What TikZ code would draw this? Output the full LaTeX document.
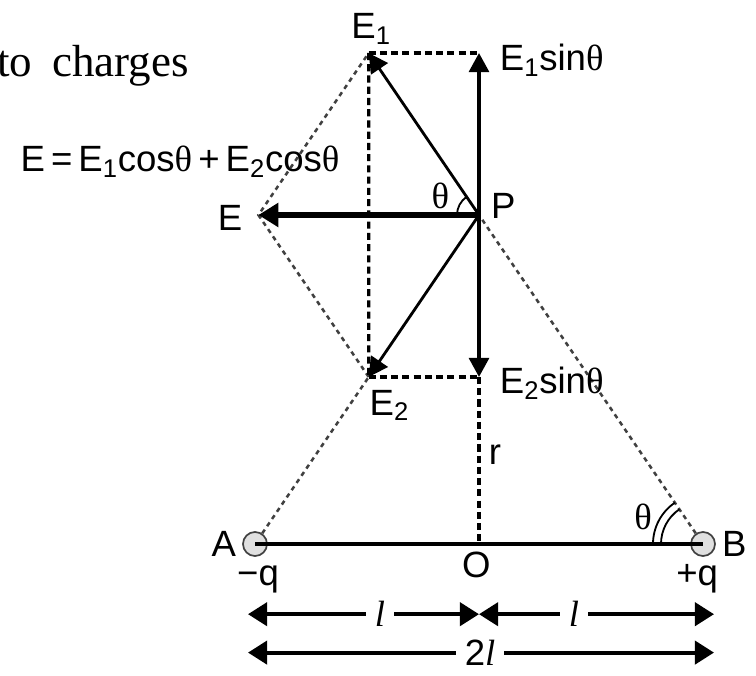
\documentclass[tikz,border=0pt]{standalone}
\usepackage{fontspec}
\setmainfont{Liberation Sans}
\newfontfamily\serifface{Liberation Serif}
\usetikzlibrary{arrows.meta,positioning,calc}
\newcommand{\thet}{{\serifface θ}}
\newcommand{\len}{{\serifface\itshape l}}

\begin{document}
\begin{tikzpicture}[
    font=\fontsize{26}{30}\selectfont,
    vec/.style={-{Triangle[length=0.48cm, width=0.5cm]}, line width=2.4pt},
    resultant/.style={-{Triangle[length=0.5cm, width=0.58cm]}, line width=4pt},
    guide/.style={dash pattern=on 3.2pt off 3pt, line width=1.8pt, black!75},
    proj/.style={dash pattern=on 5pt off 3pt, line width=2.2pt},
    charge/.style={circle, draw=black!75, fill=black!12, line width=1.2pt, minimum size=0.6cm, inner sep=0pt},
    dimline/.style={{Triangle[length=0.48cm, width=0.58cm]}-{Triangle[length=0.48cm, width=0.58cm]}, line width=2.8pt},
    dimlabel/.style={fill=white, inner xsep=6pt, inner ysep=0pt}
]
\useasboundingbox (0,0) rectangle (18.9,16.875);

% charges and field point
\coordinate (A) at (6.375,3.275);
\coordinate (B) at (17.575,3.275);
\coordinate (O) at (11.975,3.275);
\coordinate (P) at (11.975,11.5);
\coordinate (E2) at ($(P)!0.4924!(A)$);
\coordinate (E1) at ($(P)!-0.4924!(B)$);
\coordinate (E1s) at (P |- E1);
\coordinate (E2s) at (P |- E2);
\coordinate (E) at ($(E1)+(E2)-(P)$);

\node[charge] (qA) at (A) {};
\node[charge] (qB) at (B) {};
\draw[line width=2.4pt] (A) -- (B);

% construction lines
\draw[guide] (qA) -- (E2);
\draw[guide] (qB) -- (P);
\draw[guide] (E2) -- (E) -- (E1);
\draw[proj] (E1) -- (E2);
\draw[proj] (E1) -- (E1s);
\draw[proj] (E2) -- (E2s);
\draw[proj] (E2s) -- (O);

% field vectors
\draw[vec, line width=2pt] (P) -- (E1);
\draw[vec, line width=2pt] (P) -- (E2);
\draw[vec] (P) -- (E1s);
\draw[vec] (P) -- (E2s);
\draw[resultant] (P) -- (E);

% angles
\draw[line width=1.3pt] ([shift={(180:0.55)}]P) arc[start angle=180, end angle=124.25, radius=0.55];
\draw[line width=1.3pt] ([shift={(180:1.05)}]B) arc[start angle=180, end angle=124.25, radius=1.05];
\draw[line width=1.3pt] ([shift={(180:1.25)}]B) arc[start angle=180, end angle=124.25, radius=1.25];

% labels
\node[font=\fontsize{32}{36}\selectfont\serifface, anchor=base west, inner sep=0pt] (intro) at (-0.08,14.95) {to\hspace{0.45em}charges};
\node (lblE1) [above=0.1cm of E1, xshift=0.06cm] {E\textsubscript{1}};
\node (lblE1s) [right=0.4cm of E1s, yshift=-0.18cm] {E\textsubscript{1}sin\thet};
\node (lblE2) [below right=0.2cm and -0.1cm of E2] {E\textsubscript{2}};
\node (lblE2s) [right=0.4cm of E2s, yshift=-0.15cm] {E\textsubscript{2}sin\thet};
\node (lblE) [left=0.28cm of E, yshift=-0.08cm] {E};
\node (lblP) [right=0.18cm of P, yshift=0.22cm] {P};
\node (thP) [above left=0.04cm and 0.62cm of P] {\thet};
\node (sum) at (4.5,12.83) {E\,=\,E\textsubscript{1}cos\thet\,+\,E\textsubscript{2}cos\thet};
\node[anchor=west] (lblr) at (12.1,5.5) {r};
\node (lblA) [left=0.03cm of qA] {A};
\node (lblB) [right=0.03cm of qB] {B};
\node[anchor=base] (lblqA) at (6.45,2.25) {−q};
\node[anchor=base] (lblqB) at (17.43,2.25) {+q};
\node[anchor=base] (lblO) at (11.91,2.45) {O};
\node (thB) at (16.075,3.95) {\thet};

% dimensions
\coordinate (dL) at (6.2,1.52);
\coordinate (dM) at (O |- dL);
\coordinate (dR) at (17.85,1.52);
\draw[dimline] (dM) -- (dL);
\draw[dimline] (dM) -- (dR);
\node[dimlabel] (lenL) at (9.5,1.52) {\len};
\node[dimlabel] (lenR) at (14.35,1.52) {\len};
\coordinate (tL) at (6.2,0.56);
\coordinate (tR) at (17.85,0.56);
\draw[dimline] (tL) -- (tR);
\node[dimlabel] (lenT) at (12.0,0.56) {2\len};
\end{tikzpicture}
\end{document}
